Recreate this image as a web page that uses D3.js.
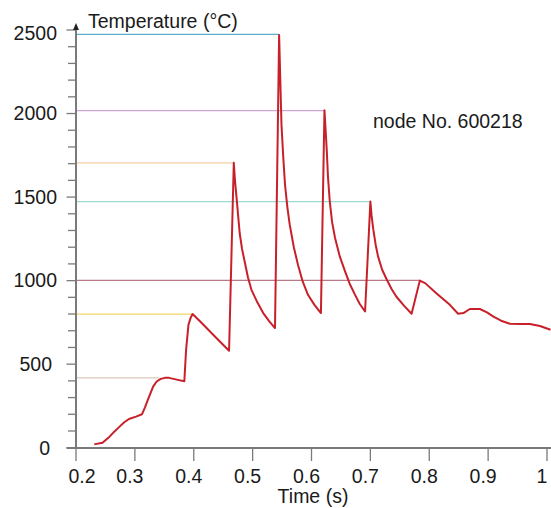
<!DOCTYPE html>
<html>
<head>
<meta charset="utf-8">
<script src="https://cdn.jsdelivr.net/npm/d3@7"></script>
<style>
    body { margin: 0; background: #fff; }
    text { font-family: "Liberation Sans", Arial, sans-serif; fill: #1a1a1a; }
</style>
</head>
<body>
<div id="chart"></div>
<script>
// temperature history of the node
const times = [0.231, 0.245, 0.257, 0.265, 0.274, 0.282, 0.290, 0.302, 0.312, 0.317,
    0.322, 0.331, 0.337, 0.344, 0.351, 0.358, 0.373, 0.384, 0.387, 0.391,
    0.395, 0.398, 0.411, 0.433, 0.460, 0.468,
    0.470, 0.473, 0.478, 0.482, 0.487, 0.492, 0.498, 0.508, 0.518, 0.528, 0.538,
    0.545, 0.547, 0.549, 0.552, 0.555, 0.559, 0.563, 0.570, 0.577, 0.585, 0.594, 0.605, 0.616,
    0.622, 0.624, 0.626, 0.628, 0.631, 0.635, 0.640, 0.648, 0.657, 0.665, 0.674, 0.682, 0.691,
    0.700, 0.702, 0.705, 0.709, 0.713, 0.720, 0.728, 0.736, 0.744, 0.757, 0.770,
    0.784, 0.793, 0.812, 0.835, 0.849, 0.858, 0.869, 0.886, 0.898, 0.909,
    0.922, 0.937, 0.955, 0.971, 0.988, 1.006];
const temps = [20, 30, 66, 96, 126, 152, 172, 186, 200, 240,
    286, 366, 396, 412, 418, 418, 406, 398, 586, 736,
    780, 800, 755, 676, 580, 1705,
    1600, 1485, 1285, 1190, 1105, 1020, 945, 870, 806, 758, 716,
    2470, 2200, 1935, 1740, 1575, 1440, 1335, 1200, 1095, 995, 915, 855, 806,
    2020, 1900, 1775, 1620, 1475, 1350, 1255, 1145, 1055, 980, 915, 860, 815,
    1473, 1390, 1305, 1215, 1145, 1065, 1005, 950, 905, 850, 802,
    1000, 985, 925, 855, 802, 806, 830, 830, 810, 785,
    760, 742, 740, 740, 728, 706];

// peak marker lines (value and where they stop)
const peakTemps = [418, 800, 1705, 2474, 2018, 1473, 1001];
const peakTimes = [0.341, 0.397, 0.467, 0.545, 0.623, 0.699, 0.784];
const peakColors = ["#dcc6b8", "#f2d66a", "#f6cca4", "#5aaec8", "#cba8d2", "#9edad2", "#b77a86"];

const xTicks = [0.2, 0.3, 0.4, 0.5, 0.6, 0.7, 0.8, 0.9, 1];
const yTicks = [0, 500, 1000, 1500, 2000, 2500];

const width = 551;
const height = 508;

const x = d3.scaleLinear().domain([0.2, 1]).range([76, 547]);
const y = d3.scaleLinear().domain([0, 2500]).range([447.7, 30]);

const svg = d3.select("#chart")
    .append("svg")
    .attr("width", width)
    .attr("height", height);

// horizontal peak lines
svg.selectAll(".peak")
    .data(peakTemps)
    .enter()
    .append("line")
    .attr("x1", x(0.2))
    .attr("x2", (d, i) => x(peakTimes[i]))
    .attr("y1", d => y(d))
    .attr("y2", d => y(d))
    .style("stroke", (d, i) => peakColors[i])
    .style("stroke-width", 1.2);

// y axis: minor ticks every 100
svg.selectAll(".yminor")
    .data(d3.range(0, 2501, 100))
    .enter()
    .append("line")
    .attr("x1", d => (d % 500 === 0) ? 66.5 : 68)
    .attr("x2", 76)
    .attr("y1", d => y(d))
    .attr("y2", d => y(d))
    .style("stroke", "#7a7a7a")
    .style("stroke-width", 1.3);

svg.append("line")
    .attr("x1", 76).attr("x2", 76)
    .attr("y1", 449).attr("y2", 28)
    .style("stroke", "#7a7a7a")
    .style("stroke-width", 2);

// small arrow on top of the y axis
svg.append("path")
    .attr("d", "M73,30 L76,23 L79,30 Z")
    .attr("fill", "#222");

// x axis
svg.append("line")
    .attr("x1", 66.5).attr("x2", width)
    .attr("y1", 448).attr("y2", 448)
    .style("stroke", "#7a7a7a")
    .style("stroke-width", 2);

svg.selectAll(".xtick")
    .data(xTicks)
    .enter()
    .append("line")
    .attr("x1", d => x(d)).attr("x2", d => x(d))
    .attr("y1", 448).attr("y2", 461)
    .style("stroke", "#7a7a7a")
    .style("stroke-width", 1.3);

// tick labels
svg.selectAll(".xlabel")
    .data(xTicks)
    .enter()
    .append("text")
    .attr("text-anchor", "middle")
    .attr("x", (d, i) => x(d) + (i === 0 ? 6 : -5))
    .attr("y", 483)
    .attr("font-size", "19.5px")
    .text(d => d);

const yLabelRight = { 1: 50, 3: 52, 4: 57 };
svg.selectAll(".ylabel")
    .data(yTicks)
    .enter()
    .append("text")
    .attr("text-anchor", "end")
    .attr("x", d => yLabelRight[String(d).length])
    .attr("y", d => y(d) + (d === 2500 ? 3 : 0))
    .attr("dy", "0.35em")
    .attr("font-size", "19.5px")
    .text(d => d);

// titles
svg.append("text")
    .attr("x", 88)
    .attr("y", 28)
    .attr("font-size", "19.5px")
    .text("Temperature (°C)");

svg.append("text")
    .attr("text-anchor", "middle")
    .attr("x", 313)
    .attr("y", 503)
    .attr("font-size", "19.5px")
    .text("Time (s)");

svg.append("text")
    .attr("x", 373)
    .attr("y", 128)
    .attr("font-size", "19.5px")
    .text("node No. 600218");

// temperature curve
const line = d3.line()
    .x(d => x(d))
    .y((d, i) => y(temps[i]));

svg.append("path")
    .attr("d", line(times))
    .attr("fill", "none")
    .attr("stroke", "#c8202a")
    .attr("stroke-width", 2)
    .attr("stroke-linejoin", "round");
</script>
</body>
</html>
